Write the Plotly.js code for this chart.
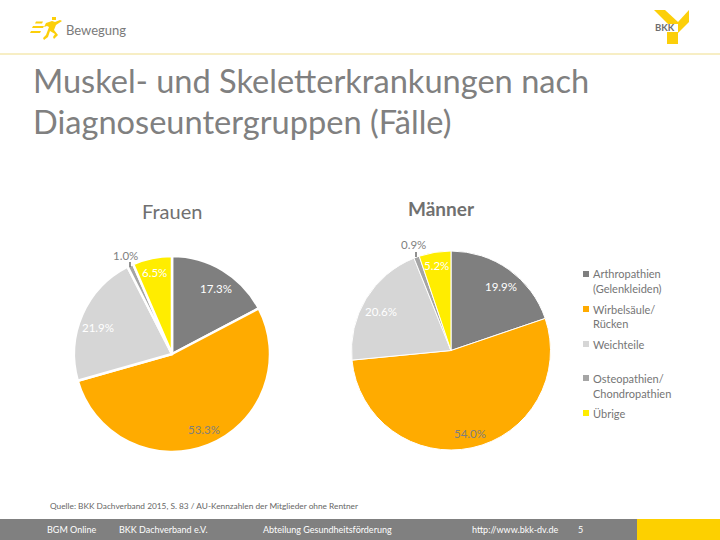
<!DOCTYPE html>
<html><head><meta charset="utf-8">
<script src="https://cdn.plot.ly/plotly-3.0.1.min.js"></script>
<style>html,body{margin:0;padding:0;background:#fff}#c{width:720px;height:540px}</style></head>
<body><div id="c"></div><script>
const categories=["Arthropathien (Gelenkleiden)","Wirbelsäule/ Rücken","Weichteile","Osteopathien/ Chondropathien","Übrige"];
const frauen=[17.3,53.3,21.9,1.0,6.5];
const maenner=[19.9,54.0,20.6,0.9,5.2];
const colors=["#7f7f7f","#ffab00","#d6d6d6","#a5a5a5","#ffed00"];
const W=720,H=540,FONT="Lato, Carlito, 'Open Sans', sans-serif",GR="#7f7f7f";
const px=x=>x/W, py=y=>1-y/H;
function pie(vals,cx,cy,r,lw,name){return {type:"pie",name,values:vals,labels:categories,sort:false,direction:"clockwise",rotation:0,
 textinfo:"none",hoverinfo:"label+percent",showlegend:false,marker:{colors,line:{color:"#fff",width:lw}},
 domain:{x:[px(cx-r),px(cx+r)],y:[py(cy+r),py(cy-r)]}};}
function T(x,y,text,size,color,anchor,extra){return Object.assign({xref:"paper",yref:"paper",x:px(x),y:py(y),text,showarrow:false,
 xanchor:anchor||"left",yanchor:"middle",align:anchor||"left",font:{family:FONT,size,color:color||GR}},extra||{});}
function R(x0,y0,x1,y1,c){return {type:"rect",xref:"paper",yref:"paper",x0:px(x0),x1:px(x1),y0:py(y0),y1:py(y1),fillcolor:c,line:{width:0},layer:"above"};}
function L(x0,y0,x1,y1,c,w){return {type:"line",xref:"paper",yref:"paper",x0:px(x0),x1:px(x1),y0:py(y0),y1:py(y1),line:{color:c,width:w},layer:"above"};}
function P(pts,c){return {type:"path",xref:"paper",yref:"paper",path:"M"+pts.map(p=>px(p[0])+","+py(p[1])).join("L")+"Z",fillcolor:c,line:{width:0},layer:"above"};}
const pct=v=>v.toFixed(1)+"%";
const Y="#fccf0a";
const shapes=[
 L(0,54,720,54,"#efdd8a",1),
 R(0,519,720,540,"#808080"),R(637,519,720,540,"#fdd000"),
 L(130,262,130,267,"#222",1),L(416,252,416,257,"#222",1),
 // runner logo
 P([[36,21.5],[43,21.5],[42,23.5],[35,23.5]],Y),P([[33,26],[44,26],[43,28],[32,28]],Y),P([[31,31],[41,31],[40,33],[30,33]],Y),
 P([[46,23],[52,21],[55,22],[60,20],[62,21],[56,25],[54,30],[58,35],[54,39],[53,37],[55,34],[50,31],[48,37],[44,40],[43,38],[46,35],[49,27],[47,26],[44,27]],Y),
 P([[52,17],[56,17],[56,20],[52,20]],Y),
 // BKK logo
 P([[654,10],[665,10],[678,22],[678,24],[668,24]],Y),
 P([[678,22],[689,10],[689,22],[678,33]],Y),
 P([[667,32],[678,32],[678,44],[667,44]],Y)
];
const legendY=[[273,"Arthropathien"],[288,"(Gelenkleiden)"],[309,"Wirbelsäule/"],[323,"Rücken"],[344,"Weichteile"],[378,"Osteopathien/"],[393,"Chondropathien"],[413,"Übrige"]];
const swatch=[[274,0],[309,1],[344,2],[378,3],[413,4]];
swatch.forEach(s=>shapes.push(R(583,s[0]-3,589,s[0]+3,colors[s[1]])));
const ann=[
 T(64,30,"Bewegung",13,"#7a7a7a"),
 T(31,80,"Muskel- und Skeletterkrankungen nach",32.6,"#808080"),
 T(31,122,"Diagnoseuntergruppen (Fälle)",32.6,"#808080"),
 T(172,211,"Frauen",20,"#707070","center"),
 T(441,208,"Männer",19,"#707070","center",{font:{family:FONT,size:19,color:"#707070",weight:700}}),
 T(653,28,"BKK",9.5,"#7a7a7a","left",{font:{family:FONT,size:9.5,color:"#6e6e6e",weight:700}}),
 T(126,255,pct(frauen[3]),11.5,GR,"center"),
 T(154,272,pct(frauen[4]),11.5,"#fff","center"),
 T(216,288,pct(frauen[0]),11.5,"#fff","center"),
 T(98,327,pct(frauen[2]),11.5,"#fff","center"),
 T(204,429,pct(frauen[1]),11.5,GR,"center"),
 T(414,244,pct(maenner[3]),11.5,GR,"center"),
 T(437,265,pct(maenner[4]),11.5,"#fff","center"),
 T(501,286,pct(maenner[0]),11.5,"#fff","center"),
 T(381,312,pct(maenner[2]),11.5,"#fff","center"),
 T(470,433,pct(maenner[1]),11.5,GR,"center"),
 T(48,506,"Quelle: BKK Dachverband 2015, S. 83 / AU-Kennzahlen der Mitglieder ohne Rentner",8.3,"#666"),
 T(45,529,"BGM Online",9,"#fff"),
 T(117,529,"BKK Dachverband e.V.",9,"#fff"),
 T(261,529,"Abteilung Gesundheitsförderung",9,"#fff"),
 T(470,529,"http://www.bkk-dv.de",9,"#fff"),
 T(576,529,"5",9,"#fff")
];
legendY.forEach(l=>ann.push(T(591,l[0],l[1],11,"#757575")));
Plotly.newPlot("c",[pie(frauen,172,354,98,2.5,"Frauen"),pie(maenner,451,350.5,99.5,1,"Männer")],
 {width:W,height:H,margin:{l:0,r:0,t:0,b:0},paper_bgcolor:"#fff",showlegend:false,shapes,annotations:ann,font:{family:FONT}},
 {displayModeBar:false,staticPlot:true});
</script></body></html>
